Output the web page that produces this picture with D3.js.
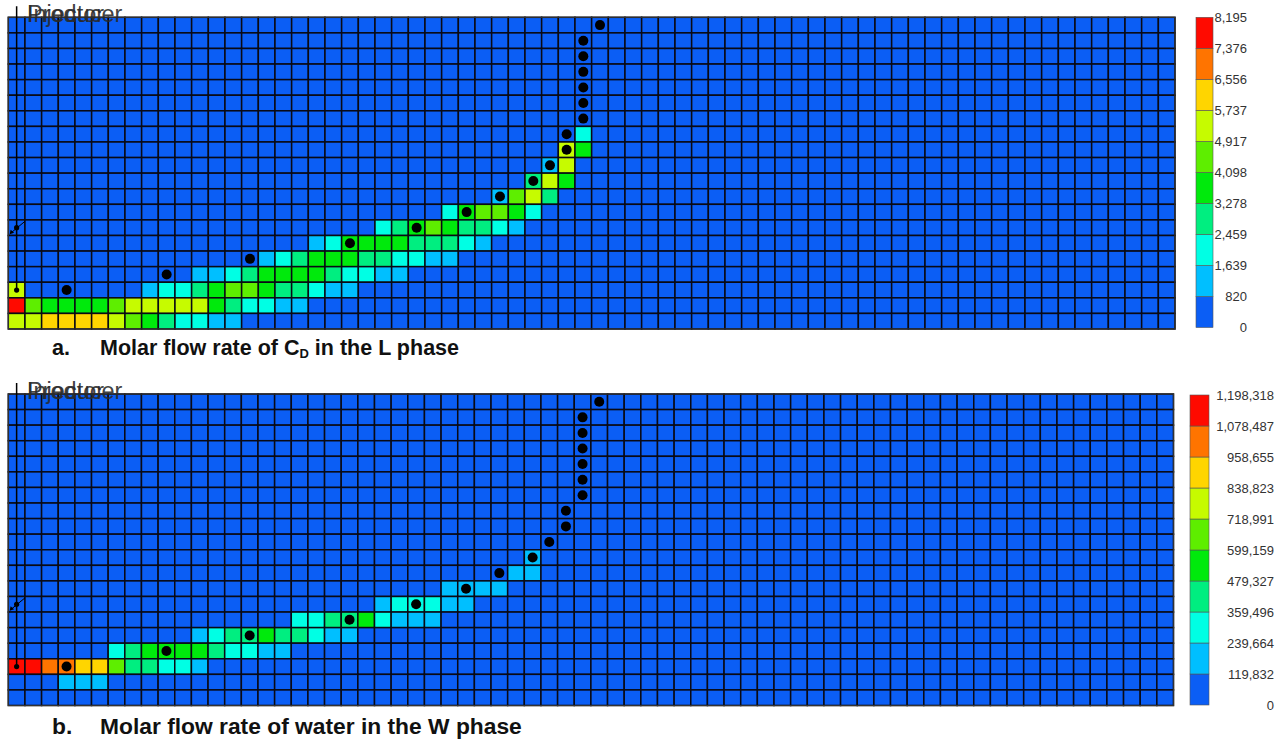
<!DOCTYPE html>
<html>
<head>
<meta charset="utf-8">
<script src="https://cdn.jsdelivr.net/npm/d3@7"></script>
<style>
  body { margin: 0; background: #fff; }
  svg { display: block; }
</style>
</head>
<body>
<div id="container"></div>
<script>
/* CONSTANTS AND GLOBALS */
const width = 1284, height = 741;
const nCols = 70, nRows = 20;

// colour of each legend bin, low to high
const binColors = ["#0b5ef5", "#00bfff", "#00ffe4", "#00ee80", "#00ea0c",
  "#5eee00", "#c6fb00", "#ffd500", "#ff7400", "#ff0a00"];

// legend tick labels
const cdTicks = [0, 820, 1639, 2459, 3278, 4098, 4917, 5737, 6556, 7376, 8195];
const waterTicks = [0, 119832, 239664, 359496, 479327, 599159, 718991, 838823, 958655, 1078487, 1198318];

// non-background cells: [row, first column, values along the row]
const cdCells = [
  [19, 0, [5350, 5480, 6050, 6200, 6180, 6020, 5300, 4480, 3720, 2850, 2100, 1900, 1280, 1050]],
  [18, 0, [8100, 4300, 3900, 3750, 3800, 3850, 4400, 5100, 5250, 5300, 5200, 5050, 3600, 2750, 2150, 1850, 1250, 1000]],
  [17, 0, [5200]],
  [17, 8, [1400, 1900, 2050, 2800, 3600, 4300, 4200, 3500, 2700, 2600, 1800, 1300, 1000]],
  [16, 11, [1150, 1450, 1950, 2700, 3500, 3800, 3700, 3400, 2900, 2200, 1900, 1400, 1000]],
  [15, 15, [1300, 2100, 3100, 3500, 3700, 3600, 3000, 2700, 2000, 1750, 1200, 900]],
  [14, 18, [1500, 2200, 3500, 3800, 3700, 3400, 2900, 2800, 2600, 1900, 1100]],
  [13, 22, [2000, 2600, 3700, 4200, 3500, 3000, 2700, 2000, 1300]],
  [12, 26, [2100, 3600, 4500, 4300, 3900, 2000]],
  [11, 29, [1200, 4600, 5400, 3100]],
  [10, 31, [2900, 5500, 3800]],
  [9, 32, [1300, 5200]],
  [8, 33, [5100, 3700]],
  [7, 34, [2000]]
];

const waterCells = [
  [18, 3, [190000, 175000, 160000]],
  [17, 0, [1150000, 1120000, 1010000, 980000, 900000, 880000, 650000, 420000, 400000, 300000, 280000, 170000]],
  [16, 6, [310000, 410000, 520000, 560000, 540000, 500000, 430000, 290000, 270000, 190000, 160000]],
  [15, 11, [180000, 300000, 400000, 450000, 500000, 420000, 380000, 270000, 200000, 150000]],
  [14, 17, [280000, 300000, 380000, 420000, 490000, 260000, 200000, 170000, 150000]],
  [13, 22, [180000, 250000, 260000, 250000, 190000, 160000]],
  [12, 26, [170000, 150000, 180000, 160000]],
  [11, 30, [170000, 140000]],
  [10, 31, [150000]]
];

// producer well trajectory (block centres)
const wellCols = [35, 34, 34, 34, 34, 34, 34, 33, 33, 32, 31, 29, 27, 24, 20, 14, 9, 3];
const wellRows = [0, 1, 2, 3, 4, 5, 6, 7, 8, 9, 10, 11, 12, 13, 14, 15, 16, 17];

const panels = [
  { cells: cdCells, ticks: cdTicks, top: 17.3, bottom: 329, right: 1175,
    barX: 1196, barW: 17, barTop: 17.3, barBottom: 327.5, labelX: 1247,
    letter: "a.", capY: 355, capSize: 21.5, caption: ["Molar flow rate of C", "D", " in the L phase"] },
  { cells: waterCells, ticks: waterTicks, top: 394, bottom: 705.5, right: 1173.5,
    barX: 1190, barW: 19, barTop: 395, barBottom: 705, labelX: 1274,
    letter: "b.", capY: 734, capSize: 22.8, caption: ["Molar flow rate of water in the W phase"] }
];

const svg = d3.select("#container")
  .append("svg")
  .attr("width", width)
  .attr("height", height);

const font = "Arial, 'Liberation Sans', sans-serif";

panels.forEach(p => {
  const x = d3.scaleBand().domain(d3.range(nCols)).range([8.3, p.right]);
  const y = d3.scaleBand().domain(d3.range(nRows)).range([p.top, p.bottom]);
  const color = d3.scaleThreshold()
    .domain(p.ticks.slice(1, -1))
    .range(binColors);

  // FILL GRID
  const lookup = new Map();
  p.cells.forEach(([row, c0, vals]) => {
    vals.forEach((v, i) => lookup.set(row * nCols + c0 + i, v));
  });
  const grid = [];
  for (let r = 0; r < nRows; r++) {
    for (let c = 0; c < nCols; c++) {
      grid.push({ r, c, v: lookup.get(r * nCols + c) || 0 });
    }
  }

  const g = svg.append("g");

  g.selectAll("rect.cell")
    .data(grid)
    .join("rect")
    .attr("class", "cell")
    .attr("x", d => x(d.c))
    .attr("y", d => y(d.r))
    .attr("width", x.bandwidth())
    .attr("height", y.bandwidth())
    .attr("fill", d => color(d.v))
    .attr("stroke", "#0a0a14")
    .attr("stroke-width", 1.5);

  g.append("rect")
    .attr("x", 8.3).attr("y", p.top)
    .attr("width", p.right - 8.3).attr("height", p.bottom - p.top)
    .attr("fill", "none")
    .attr("stroke", "#333")
    .attr("stroke-width", 1.2);

  // WELLS
  const cx = c => x(c) + x.bandwidth() / 2;
  const cy = r => y(r) + y.bandwidth() / 2;

  g.append("line")
    .attr("x1", cx(0)).attr("x2", cx(0))
    .attr("y1", p.top - 11).attr("y2", cy(17))
    .attr("stroke", "#000").attr("stroke-width", 1.5);

  g.selectAll("circle.well")
    .data(wellCols.map((c, i) => [c, wellRows[i]]))
    .join("circle")
    .attr("class", "well")
    .attr("cx", d => cx(d[0]))
    .attr("cy", d => cy(d[1]))
    .attr("r", 5)
    .attr("fill", "#000");

  g.append("circle")
    .attr("cx", cx(0)).attr("cy", cy(17))
    .attr("r", 2.6).attr("fill", "#000");

  // small arrow marker on the injector line
  g.append("circle")
    .attr("cx", cx(0)).attr("cy", cy(13))
    .attr("r", 2.6).attr("fill", "#000");
  g.append("line")
    .attr("x1", cx(0) + 8.5).attr("y1", cy(13) - 6.5)
    .attr("x2", cx(0) - 6).attr("y2", cy(13) + 5.5)
    .attr("stroke", "#000").attr("stroke-width", 1);
  g.append("path")
    .attr("d", `M${cx(0) - 7},${cy(13) + 6.5} l1,-4.5 l3.5,3 z`)
    .attr("fill", "#000");

  // the two well names are printed on top of each other, as in the source
  ["Injector", "Producer"].forEach(t => {
    g.append("text")
      .attr("x", 27)
      .attr("y", p.top + 4.5)
      .attr("font-family", font)
      .attr("font-size", 23.5)
      .attr("fill", "#2a2a2a")
      .attr("fill-opacity", 0.9)
      .text(t);
  });

  // COLOUR BAR
  const yBar = d3.scaleLinear()
    .domain([0, p.ticks[p.ticks.length - 1]])
    .range([p.barBottom, p.barTop]);

  g.selectAll("rect.bin")
    .data(d3.range(binColors.length))
    .join("rect")
    .attr("class", "bin")
    .attr("x", p.barX)
    .attr("y", i => yBar(p.ticks[i + 1]))
    .attr("width", p.barW)
    .attr("height", i => yBar(p.ticks[i]) - yBar(p.ticks[i + 1]))
    .attr("fill", i => binColors[i])
    .attr("stroke", "#555")
    .attr("stroke-width", 0.6);

  g.selectAll("text.tick")
    .data(p.ticks)
    .join("text")
    .attr("class", "tick")
    .attr("x", p.labelX)
    .attr("y", d => yBar(d))
    .attr("dy", "0.35em")
    .attr("text-anchor", "end")
    .attr("font-family", font)
    .attr("font-size", 13)
    .attr("fill", "#333")
    .text(d => d3.format(",")(d));

  // CAPTION
  g.append("text")
    .attr("x", 52).attr("y", p.capY)
    .attr("font-family", font).attr("font-weight", "bold")
    .attr("font-size", p.capSize).attr("fill", "#111")
    .text(p.letter);

  const cap = g.append("text")
    .attr("x", 100).attr("y", p.capY)
    .attr("font-family", font).attr("font-weight", "bold")
    .attr("font-size", p.capSize).attr("fill", "#111");
  cap.append("tspan").text(p.caption[0]);
  if (p.caption.length > 1) {
    cap.append("tspan").attr("font-size", 13).attr("dy", 3).text(p.caption[1]);
    cap.append("tspan").attr("dy", -3).text(p.caption[2]);
  }
});
</script>
</body>
</html>
